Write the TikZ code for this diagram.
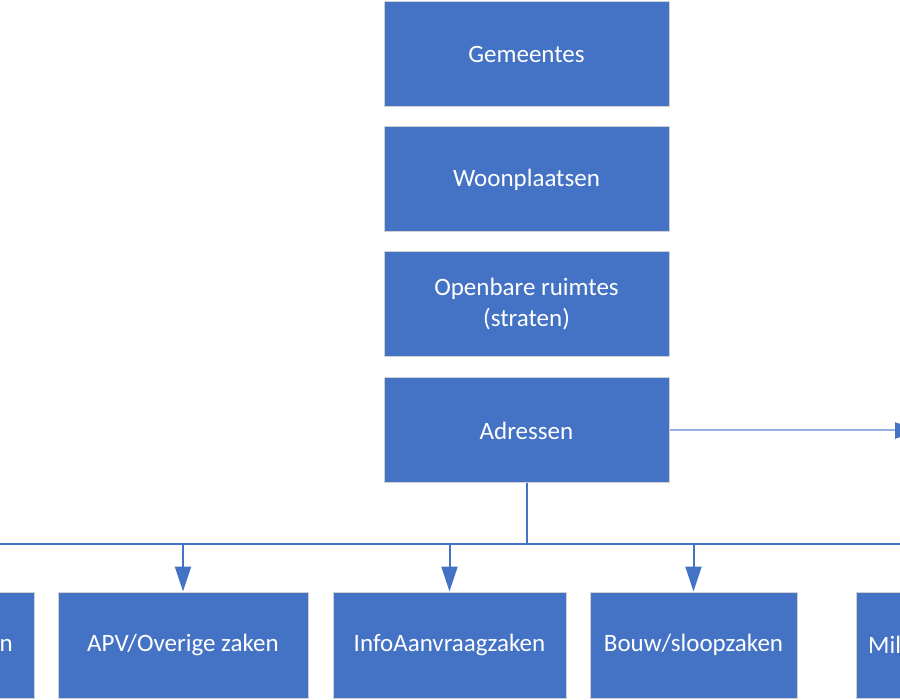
\documentclass[tikz,border=0pt]{standalone}
\usepackage{fontspec}
\setmainfont{Carlito}
\usetikzlibrary{arrows.meta}
\definecolor{officeblue}{HTML}{4472C4}
\begin{document}
\begin{tikzpicture}[x=1pt, y=-1pt,
  box/.style={fill=officeblue, draw=black!18, line width=1pt, minimum width=285pt,
    minimum height=105pt, inner sep=0pt, text=white, align=center,
    font=\fontsize{25}{31}\selectfont},
  txt/.style={text=white, inner sep=0pt, font=\fontsize{25}{31}\selectfont},
  lijn/.style={draw=officeblue, line width=2pt},
  pijl/.style={lijn, -{Triangle[length=25pt,width=16pt]}}]
\useasboundingbox (0,0) rectangle (900,700);
\clip (0,0) rectangle (900,700);
\node[box] (gem) at (526.5,54.5) {Gemeentes};
\node[box] (woon) at (526.5,179.5) {Woonplaatsen};
\node[box] (openb) at (526.5,304.5) {Openbare ruimtes\\(straten)};
\node[box] (adr) at (526.5,430.5) {Adressen};
\node[box, minimum width=248pt, minimum height=106pt] (links) at (-90,645) {};
\node[txt, anchor=east] at (13,645) {n};
\node[box, minimum width=250pt, minimum height=106pt] (apv) at (183,645) {APV/Overige zaken};
\node[box, minimum width=233pt, minimum height=106pt] (info) at (449.5,645) {InfoAanvraagzaken};
\node[box, minimum width=207pt, minimum height=106pt] (bouw) at (693.5,645) {Bouw/sloopzaken};
\node[box, minimum width=248pt, minimum height=106pt] (mil) at (980,645) {};
\node[txt, anchor=west] at (868,645) {Mil};
\coordinate (bus) at (526.5,544);
\coordinate (busL) at (-5,544);
\coordinate (busR) at (905,544);
\coordinate (rechts) at (920,430.5);
\draw[lijn] (adr.south) -- (bus);
\draw[lijn] (busL) -- (busR);
\draw[pijl] (apv.north |- bus) -- (apv.north);
\draw[pijl] (info.north |- bus) -- (info.north);
\draw[pijl] (bouw.north |- bus) -- (bouw.north);
\draw[lijn, draw=officeblue!55, -{Triangle[length=25pt,width=16pt,color=officeblue]}] (adr.east) -- (rechts);
\end{tikzpicture}
\end{document}
